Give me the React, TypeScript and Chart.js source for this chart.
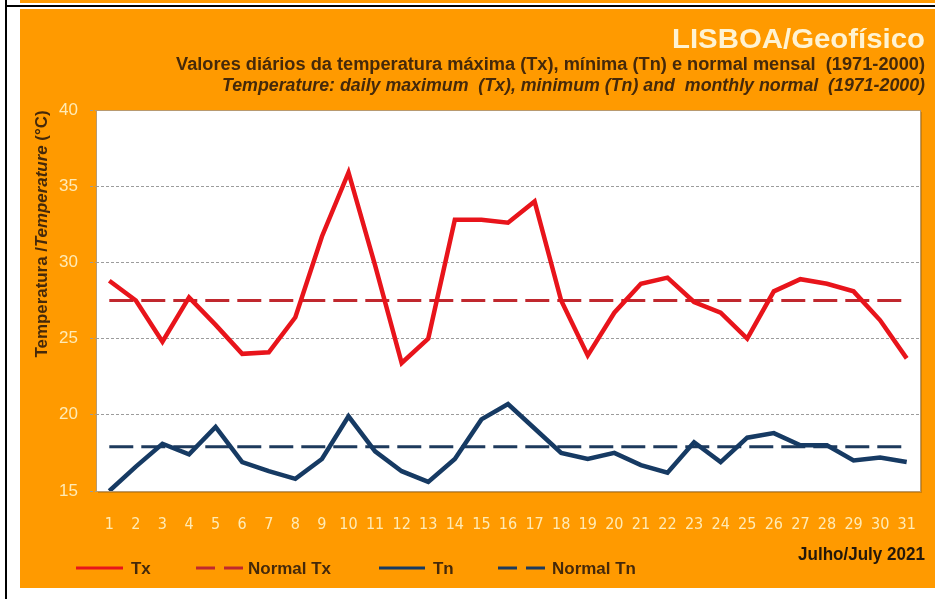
import { useEffect, useRef } from "react";
import { Chart, registerables } from "chart.js";

Chart.register(...registerables);

const DAYS = ["1","2","3","4","5","6","7","8","9","10","11","12","13","14","15","16","17","18","19","20","21","22","23","24","25","26","27","28","29","30","31"];
const TX = [28.8, 27.5, 24.8, 27.7, 25.9, 24.0, 24.1, 26.4, 31.7, 35.9, 29.8, 23.4, 25.0, 32.8, 32.8, 32.6, 34.0, 27.5, 23.9, 26.7, 28.6, 29.0, 27.4, 26.7, 25.0, 28.1, 28.9, 28.6, 28.1, 26.2, 23.7];
const TN = [15.0, 16.6, 18.1, 17.4, 19.2, 16.9, 16.3, 15.8, 17.1, 19.9, 17.6, 16.3, 15.6, 17.1, 19.7, 20.7, 19.1, 17.5, 17.1, 17.5, 16.7, 16.2, 18.2, 16.9, 18.5, 18.8, 18.0, 18.0, 17.0, 17.2, 16.9];
const NORMAL_TX = 27.5;
const NORMAL_TN = 17.9;
const Y_MIN = 15;
const Y_MAX = 40;
const Y_STEP = 5;

const SERIES_LABELS = ["Tx", "Tn", "Normal Tx", "Normal Tn"];
const TITLE = "LISBOA/Geofísico";
const SUBTITLE_PT = "Valores diários da temperatura máxima (Tx), mínima (Tn) e normal mensal  (1971-2000)";
const SUBTITLE_EN = "Temperature: daily maximum  (Tx), minimum (Tn) and  monthly normal  (1971-2000)";
const Y_TITLE_PARTS: [string, string][] = [["Temperatura /", "normal"], ["Temperature", "italic"], [" (°C)", "normal"]];
const PERIOD = "Julho/July 2021";

const NARROW = "'Liberation Sans Narrow', 'Arial Narrow', 'DejaVu Sans Condensed', 'Liberation Sans', sans-serif";
const SANS = "'Liberation Sans', Arial, sans-serif";
const ORANGE = "#FF9A00";
const CREAM = "#FFEBB5";
const BROWN = "#45290A";
const RED = "#E8141B";
const RED_N = "#C0282E";
const NAVY = "#163A63";
const NAVY_N = "#1E3A5C";

// draws text with a given font, squeezed horizontally to a target width (narrow look)
function drawSqueezed(ctx: CanvasRenderingContext2D, text: string, x: number, y: number, font: string, target: number, align: CanvasTextAlign) {
  ctx.save();
  ctx.font = font;
  const w = ctx.measureText(text).width;
  ctx.translate(x, y);
  ctx.scale(target / w, 1);
  ctx.textAlign = align;
  ctx.fillText(text, 0, 0);
  ctx.restore();
}

const framePlugin = {
  id: "frame",
  beforeDraw(chart: any) {
    const ctx = chart.ctx as CanvasRenderingContext2D;
    const { left, top, right, bottom } = chart.chartArea;
    ctx.save();
    ctx.fillStyle = "#ffffff";
    ctx.fillRect(0, 0, chart.width, chart.height);
    ctx.fillStyle = ORANGE;
    ctx.fillRect(20, 0, chart.width - 20, 3);
    ctx.fillRect(20, 9, chart.width - 20, 579);
    ctx.fillStyle = "#000000";
    ctx.fillRect(5, 0, 2, chart.height);
    ctx.fillRect(5, 5, chart.width - 5, 2);
    ctx.fillStyle = "rgba(120,80,20,0.35)";
    ctx.fillRect(left + 2, top + 2, right - left, bottom - top);
    ctx.fillStyle = "#ffffff";
    ctx.fillRect(left, top, right - left, bottom - top);
    ctx.restore();
  },
  afterDraw(chart: any) {
    const ctx = chart.ctx as CanvasRenderingContext2D;
    const { left, top, right, bottom } = chart.chartArea;
    ctx.save();
    ctx.strokeStyle = "#B89A70";
    ctx.lineWidth = 1;
    ctx.strokeRect(Math.round(left) + 0.5, Math.round(top) + 0.5, Math.round(right - left), Math.round(bottom - top));

    ctx.textBaseline = "middle";
    ctx.fillStyle = "#FFF3D2";
    drawSqueezed(ctx, TITLE, 925, 40, `normal bold 28px ${SANS}`, 253, "right");

    ctx.fillStyle = BROWN;
    drawSqueezed(ctx, SUBTITLE_PT, 925, 65, `normal bold 18px ${SANS}`, 749, "right");
    drawSqueezed(ctx, SUBTITLE_EN, 925, 86, `italic bold 18px ${SANS}`, 703, "right");

    // y title
    ctx.save();
    ctx.translate(42, 234);
    ctx.rotate(-Math.PI / 2);
    let total = 0;
    for (const [t, st] of Y_TITLE_PARTS) {
      ctx.font = `${st} bold 17px ${SANS}`;
      total += ctx.measureText(t).width;
    }
    const k = 247 / total;
    ctx.scale(k, 1);
    ctx.textAlign = "left";
    let x = -total / 2;
    for (const [t, st] of Y_TITLE_PARTS) {
      ctx.font = `${st} bold 17px ${SANS}`;
      ctx.fillText(t, x, 0);
      x += ctx.measureText(t).width;
    }
    ctx.restore();

    ctx.fillStyle = "#24180A";
    drawSqueezed(ctx, PERIOD, 925, 555, `normal bold 18px ${SANS}`, 127, "right");

    // legend
    const LF = `normal bold 17px ${SANS}`;
    ctx.font = LF;
    const lk = 83 / ctx.measureText("Normal Tx").width;
    const items = [
      { ds: 0, x1: 76, x2: 123, tx: 131 },
      { ds: 2, x1: 196, x2: 245, tx: 248 },
      { ds: 1, x1: 379, x2: 425, tx: 433 },
      { ds: 3, x1: 498, x2: 548, tx: 552 },
    ];
    const ly = 568;
    for (const it of items) {
      const d = chart.data.datasets[it.ds];
      ctx.strokeStyle = d.borderColor;
      ctx.lineWidth = 3;
      ctx.setLineDash(d.borderDash ? [19, 9] : []);
      ctx.beginPath();
      ctx.moveTo(it.x1, ly);
      ctx.lineTo(it.x2, ly);
      ctx.stroke();
      ctx.setLineDash([]);
      ctx.fillStyle = BROWN;
      ctx.font = LF;
      const w = ctx.measureText(d.label).width;
      drawSqueezed(ctx, d.label, it.tx, ly + 1, LF, w * lk, "left");
    }
    ctx.restore();
  },
};

export default function App() {
  const ref = useRef<HTMLCanvasElement>(null);
  useEffect(() => {
    const canvas = ref.current!;
    const first = DAYS[0];
    const last = DAYS[DAYS.length - 1];
    const chart = new Chart(canvas, {
      type: "line",
      data: {
        labels: DAYS,
        datasets: [
          { label: SERIES_LABELS[0], data: TX, borderColor: RED, borderWidth: 4.5, pointRadius: 0, tension: 0 },
          { label: SERIES_LABELS[1], data: TN, borderColor: NAVY, borderWidth: 4.5, pointRadius: 0, tension: 0 },
          { label: SERIES_LABELS[2], data: [{ x: first, y: NORMAL_TX }, { x: last, y: NORMAL_TX }], borderColor: RED_N, borderWidth: 3, borderDash: [24, 8], pointRadius: 0 },
          { label: SERIES_LABELS[3], data: [{ x: first, y: NORMAL_TN }, { x: last, y: NORMAL_TN }], borderColor: NAVY_N, borderWidth: 3, borderDash: [24, 8], pointRadius: 0 },
        ] as any,
      },
      options: {
        animation: false,
        responsive: false,
        devicePixelRatio: 1,
        layout: { padding: { left: 20, top: 110, right: 15, bottom: 0 } },
        plugins: { legend: { display: false }, tooltip: { enabled: false }, title: { display: false } },
        scales: {
          x: {
            type: "category",
            offset: true,
            grid: { display: false },
            border: { display: false },
            ticks: { color: CREAM, font: { family: NARROW, size: 16 }, padding: 16, autoSkip: false, maxRotation: 0 },
            afterFit: (sc: any) => { sc.height = 108; },
          },
          y: {
            min: Y_MIN,
            max: Y_MAX,
            grid: { color: "#9C9C9C", lineWidth: 1, tickLength: 6, tickColor: "#9C9C9C", tickBorderDash: [3, 2] },
            border: { display: false, dash: [3, 2] },
            ticks: { stepSize: Y_STEP, color: CREAM, font: { family: SANS, size: 17 }, padding: 12 },
            afterFit: (sc: any) => { sc.width = 76; },
          },
        },
      } as any,
      plugins: [framePlugin],
    });
    return () => chart.destroy();
  }, []);
  return (
    <div style={{ position: "fixed", left: 0, top: 0, width: 935, height: 599 }}>
      <canvas ref={ref} width={935} height={599} style={{ display: "block", width: 935, height: 599 }} />
    </div>
  );
}
